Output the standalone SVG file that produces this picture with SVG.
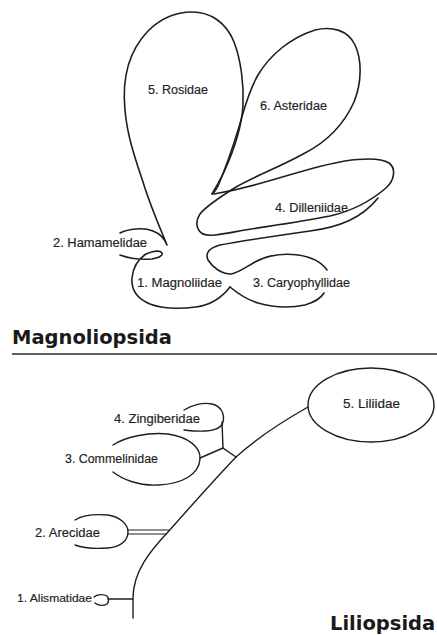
<svg xmlns="http://www.w3.org/2000/svg" width="437" height="635" viewBox="0 0 437 635">
<style>
.o{fill:none;stroke:#1e1e1e;stroke-width:1.6;stroke-linecap:round;stroke-linejoin:round}
.c{fill:none;stroke:#1e1e1e;stroke-width:1.4;stroke-linecap:round}
.c2{fill:none;stroke:#1e1e1e;stroke-width:1;stroke-linecap:round}
.l{font-family:"Liberation Sans",Arial,sans-serif;font-size:12px;fill:#222;stroke:#222;stroke-width:0.15}
.h{font-family:"DejaVu Sans",Verdana,sans-serif;font-weight:bold;font-size:19.5px;fill:#1a1a1a}
</style>
<rect width="437" height="635" fill="#fff"/>

<g id="rosidae">
<path class="o" d="M120,233 C128,229 143,227 153,231 C161,234 165,240 167,245 C160,228 150,205 143,182 C135,158 127,135 125,110 C122,80 128,52 148,31 C162,17 178,12 192,12 C210,12 226,22 234,42 C241,60 244,85 243,105 C242,125 234,150 224,172 C219,182 215,189 212,194"/>
<text class="l" x="148" y="94" textLength="60" lengthAdjust="spacingAndGlyphs">5. Rosidae</text>
</g>

<g id="asteridae">
<path class="o" d="M212,194 C214,193 216,190 218,186 C224,172 232,150 239,127 C244,110 248,92 258,75 C270,55 290,38 315,30 C332,26 348,30 355,45 C362,60 362,82 354,102 C345,122 330,140 305,153 C282,166 255,176 236,187 C222,196 207,205 200,214 C195,221 196,230 203,234"/>
<text class="l" x="260" y="110" textLength="67" lengthAdjust="spacingAndGlyphs">6. Asteridae</text>
</g>

<g id="dilleniidae">
<path class="o" d="M203,234 C210,237 222,234 245,230 C270,226 300,222 330,216 C352,211 372,200 386,188 C395,180 396,168 389,163 C381,158 366,158 345,161 C315,166 285,177 258,184 C240,189 225,192 214,194"/>
<text class="l" x="275" y="212" textLength="73" lengthAdjust="spacingAndGlyphs">4. Dilleniidae</text>
</g>

<g id="hamamelidae">
<path class="o" d="M120,255 C128,258 140,260 152,259 C158,258 163,256 162,253 C160,250 153,251 146,254 C138,259 133,268 132,278 C131,290 138,299 150,304 C163,309 180,309 196,307 C212,305 223,296 230,287"/>
<text class="l" x="53" y="247" textLength="94" lengthAdjust="spacingAndGlyphs">2. Hamamelidae</text>
</g>

<g id="magnoliidae">
<text class="l" x="137" y="287" textLength="85" lengthAdjust="spacingAndGlyphs">1. Magnoliidae</text>
</g>

<g id="caryophyllidae">
<path class="o" d="M230,287 C236,292 245,299 258,303 C272,307 290,308 305,305 C315,302 321,298 324,293"/>
<path class="o" d="M327,270 C322,263 312,257 298,255 C283,253 268,255 255,262 C246,267 238,273 231,274 C222,274 213,268 208,260 C205,253 209,248 220,245 C240,241 275,236 310,231 C340,227 362,218 378,198"/>
<text class="l" x="253" y="287" textLength="97" lengthAdjust="spacingAndGlyphs">3. Caryophyllidae</text>
</g>

<g id="magnoliopsida-heading">
<text class="h" x="12" y="344">Magnoliopsida</text>
<line x1="12" y1="354" x2="437" y2="354" stroke="#2a2a2a" stroke-width="1.6"/>
</g>

<g id="connectors">
<path class="c" d="M133,618 L133,598 C133,572 150,551 168,532 C192,505 214,480 236,457 C258,437 285,420 308,407"/>
<path class="c" d="M222,422 L223,448 L236,457"/>
<path class="c" d="M200,458 L223,448"/>
<path class="c2" d="M128,530 L169,530 M128,534 L166,534"/>
<path class="c" d="M108,599 L133,599"/>
</g>

<g id="liliidae">
<ellipse class="c" cx="371" cy="405" rx="63" ry="37"/>
<text class="l" x="343" y="408" textLength="57" lengthAdjust="spacingAndGlyphs">5. Liliidae</text>
</g>

<g id="zingiberidae">
<path class="c" d="M184,410 C192,405 203,402 212,404 C221,406 225,414 223,422 C221,430 208,433 184,430"/>
<text class="l" x="114" y="423" textLength="86" lengthAdjust="spacingAndGlyphs">4. Zingiberidae</text>
</g>

<g id="commelinidae">
<path class="c" d="M113,445 C125,437 148,432 168,434 C188,437 201,447 200,459 C199,474 183,484 158,485 C138,486 122,479 113,472"/>
<text class="l" x="65" y="463" textLength="93" lengthAdjust="spacingAndGlyphs">3. Commelinidae</text>
</g>

<g id="arecidae">
<path class="c" d="M75,520 C83,515 95,514 108,515 C120,517 128,524 128,532 C128,541 120,547 108,548 C95,549 83,548 75,545"/>
<text class="l" x="35" y="537" textLength="65" lengthAdjust="spacingAndGlyphs">2. Arecidae</text>
</g>

<g id="alismatidae">
<path class="c" d="M94,597 C97,594 104,594 107,596 C109,598 109,602 107,604 C104,606 98,606 95,603"/>
<text class="l" x="17" y="602" style="font-size:10px" textLength="75" lengthAdjust="spacingAndGlyphs">1. Alismatidae</text>
</g>

<g id="liliopsida-heading">
<text class="h" x="330" y="630">Liliopsida</text>
</g>
</svg>
